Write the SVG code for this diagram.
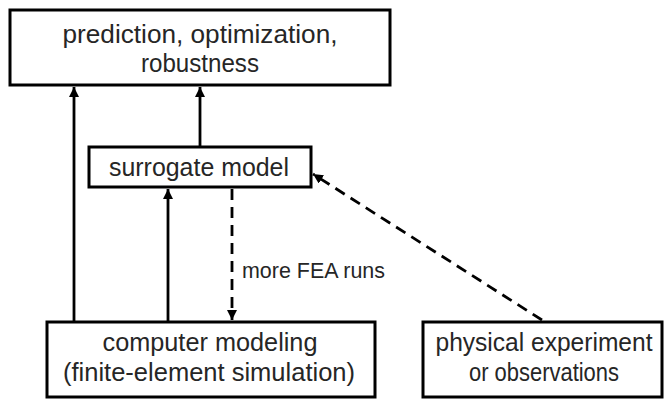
<svg xmlns="http://www.w3.org/2000/svg" width="664" height="399" viewBox="0 0 664 399">
<defs>
<style>
.box{fill:#fff;stroke:#000;stroke-width:3}
.t{font-family:"Liberation Sans",Arial,sans-serif;font-size:25px;fill:#262626;text-anchor:middle}
.lbl{font-family:"Liberation Sans",Arial,sans-serif;font-size:22px;fill:#262626}
.ln{stroke:#000;stroke-width:2.8;fill:none}
.dash{stroke-dasharray:11 7}
</style>
<marker id="ah" viewBox="0 0 10 10" refX="10" refY="5" markerWidth="10" markerHeight="10" markerUnits="userSpaceOnUse" orient="auto">
<path d="M0,0 L10,5 L0,10 z" fill="#000"/>
</marker>
</defs>
<rect width="664" height="399" fill="#fff"/>
<g id="connectors">
<line class="ln" x1="74" y1="322" x2="74" y2="87" marker-end="url(#ah)"/>
<line class="ln" x1="200" y1="147" x2="200" y2="87" marker-end="url(#ah)"/>
<line class="ln" x1="168" y1="322" x2="168" y2="189" marker-end="url(#ah)"/>
<line class="ln dash" x1="232" y1="189" x2="232" y2="320" marker-end="url(#ah)"/>
<line class="ln dash" x1="542" y1="320" x2="313" y2="174" marker-end="url(#ah)"/>
<text class="lbl" x="242" y="278" textLength="143" lengthAdjust="spacingAndGlyphs">more FEA runs</text>
</g>
<g id="top">
<rect class="box" x="10" y="10" width="380" height="75"/>
<text class="t" x="200" y="43" textLength="275" lengthAdjust="spacingAndGlyphs">prediction,  optimization,</text>
<text class="t" x="200" y="72" textLength="118" lengthAdjust="spacingAndGlyphs">robustness</text>
</g>
<g id="surrogate">
<rect class="box" x="89" y="147" width="222" height="40"/>
<text class="t" x="199" y="176" textLength="180" lengthAdjust="spacingAndGlyphs">surrogate model</text>
</g>
<g id="computer">
<rect class="box" x="47" y="322" width="328" height="75"/>
<text class="t" x="210" y="351" textLength="215" lengthAdjust="spacingAndGlyphs">computer modeling</text>
<text class="t" x="209" y="381" textLength="292" lengthAdjust="spacingAndGlyphs">(finite-element simulation)</text>
</g>
<g id="physical">
<rect class="box" x="423" y="322" width="239" height="75"/>
<text class="t" x="544" y="351" textLength="217" lengthAdjust="spacingAndGlyphs">physical experiment</text>
<text class="t" x="544" y="381" textLength="150" lengthAdjust="spacingAndGlyphs">or observations</text>
</g>
</svg>
